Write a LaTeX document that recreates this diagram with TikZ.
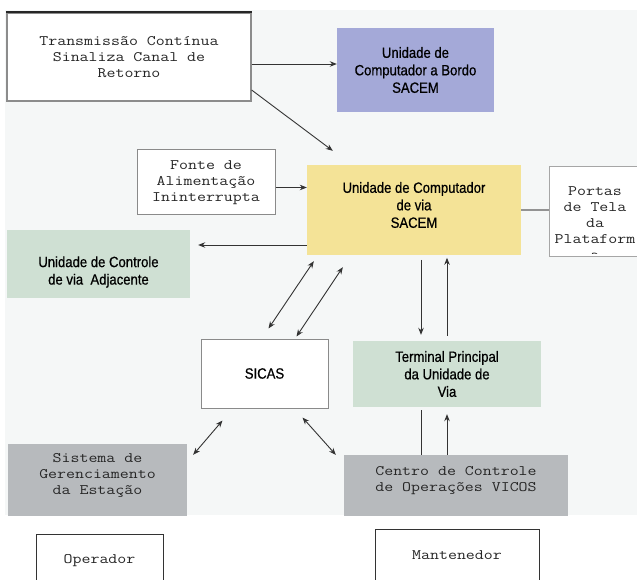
\documentclass[tikz,border=0pt]{standalone}
\usepackage{fontspec}
\usetikzlibrary{arrows.meta,calc}
\newfontfamily\monof[FakeStretch=1.2]{Latin Modern Mono}
\newfontfamily\sansf[FakeStretch=0.88,FakeBold=0.6]{Liberation Sans}
\definecolor{bgc}{HTML}{F5F7F7}
\definecolor{bordoc}{HTML}{A4A9D8}
\definecolor{yelc}{HTML}{F4E397}
\definecolor{grnc}{HTML}{CFE0D3}
\definecolor{gryc}{HTML}{B7BABD}
\definecolor{linec}{HTML}{333333}
\definecolor{edgec}{HTML}{8A8A8A}
\tikzset{
  box/.style={rectangle, inner sep=0pt, align=center},
  mono/.style={font=\monof\fontsize{14.5}{16}\selectfont, text=black!85},
  sans/.style={font=\sansf\fontsize{14.9}{17.5}\selectfont, text=black},
  wbox/.style={box, fill=white, draw=edgec, line width=1pt},
  kbox/.style={box, fill=white, draw=black!80, line width=0.9pt},
  arr/.style={draw=linec, line width=0.9pt, -{Stealth[length=7pt,width=5.5pt]}},
  darr/.style={draw=linec, line width=0.9pt, {Stealth[length=7pt,width=5.5pt]}-{Stealth[length=7pt,width=5.5pt]}},
  plain/.style={draw=linec, line width=0.9pt},
}
\begin{document}
\begin{tikzpicture}[x=1pt,y=-1pt]
\useasboundingbox (0,0) rectangle (637,580);
\clip (0,0) rectangle (637,580);
\fill[bgc] (5,10) rectangle (637,515);

% boxes
\node[wbox, mono, draw=gray!90, line width=1.2pt, minimum width=244, minimum height=88] (trans) at (129,57)
  {Transmissão Contínua\\Sinaliza Canal de\\Retorno};
\draw[black!85, line width=2pt] (trans.north west) -- (trans.north east);
\node[box, sans, fill=bordoc, minimum width=157, minimum height=84] (bordo) at (415.5,70)
  {Unidade de\\Computador a Bordo\\SACEM};
\node[box, fill=yelc, minimum width=214, minimum height=90] (yellow) at (414,210) {};
\node[box, sans] (yellowtxt) at (414,205) {Unidade de Computador\\de via\\SACEM};
\node[wbox, draw=gray!70, minimum width=92, minimum height=89] (portas) at (595,211.5) {};
\begin{scope}
  \clip ($(portas.north west)+(1,1)$) rectangle ($(portas.south east)+(-1,-3)$);
  \node[box, mono] (portastxt) at (595,223) {Portas\\de Tela\\da\\Plataform\\a};
\end{scope}
\node[wbox, mono, minimum width=138, minimum height=65] (fonte) at (206,182.5)
  {Fonte de\\Alimentação\\Ininterrupta};
\node[box, fill=grnc, minimum width=183, minimum height=68] (adj) at (98.5,264) {};
\node[box, sans] (adjtxt) at (98.5,272) {Unidade de Controle\\de via\ \ Adjacente};
\node[wbox, sans, minimum width=127, minimum height=69] (sicas) at (264.5,373.5) {SICAS};
\node[box, sans, fill=grnc, minimum width=188, minimum height=66] (term) at (447,374)
  {Terminal Principal\\da Unidade de\\Via};
\node[box, fill=gryc, minimum width=224, minimum height=61] (centro) at (456,485.5) {};
\node[box, mono] (centrotxt) at (456,481) {Centro de Controle\\de Operações VICOS};
\node[box, fill=gryc, minimum width=179, minimum height=72] (sist) at (97.5,480) {};
\node[box, mono] (sisttxt) at (97.5,475) {Sistema de\\Gerenciamento\\da Estação};
\node[kbox, mono, minimum width=127, minimum height=53] (oper) at (99.5,560.5) {Operador};
\node[kbox, mono, minimum width=164, minimum height=52] (mant) at (457,555) {Mantenedor};

% connectors
\coordinate (a1) at ($(trans.east)+(0,7)$);
\draw[arr] (a1) -- (a1 -| bordo.west);
\draw[arr] ($(trans.east)+(0,33)$) -- ($(yellow.north west)+(26,-14)$);
\coordinate (a2) at ($(fonte.east)+(0,5)$);
\draw[arr] (a2) -- (a2 -| yellow.west);
\coordinate (a3) at ($(yellow.west)+(0,35)$);
\coordinate (a4) at ($(a3 -| adj.east)+(8,0)$);
\draw[arr] (a3) -- (a4);
\draw[draw=gray!85, line width=2pt] (yellow.east) -- (yellow.east -| portas.west);
\draw[darr] ($(sicas.north west)+(68,-10)$) -- ($(yellow.south west)+(7,6)$);
\draw[darr] ($(sicas.north west)+(96,-2)$) -- ($(yellow.south west)+(36,12)$);
\draw[arr] ($(term.north)+(-26,-81)$) -- ($(term.north)+(-26,-6)$);
\draw[arr] ($(term.north)+(0,-5)$) -- ($(term.north)+(0,-83)$);
\coordinate (t1) at ($(term.south)+(-26,3)$);
\draw[plain] (t1) -- (t1 |- centro.north);
\coordinate (t2) at ($(term.south)+(0,7)$);
\draw[arr] (t2 |- centro.north) -- (t2);
\draw[darr] ($(sicas.south west)+(22,12)$) -- ($(sist.north east)+(6,11)$);
\draw[darr] ($(sicas.south west)+(102,9)$) -- ($(centro.north west)+(-8,0)$);
\end{tikzpicture}
\end{document}
